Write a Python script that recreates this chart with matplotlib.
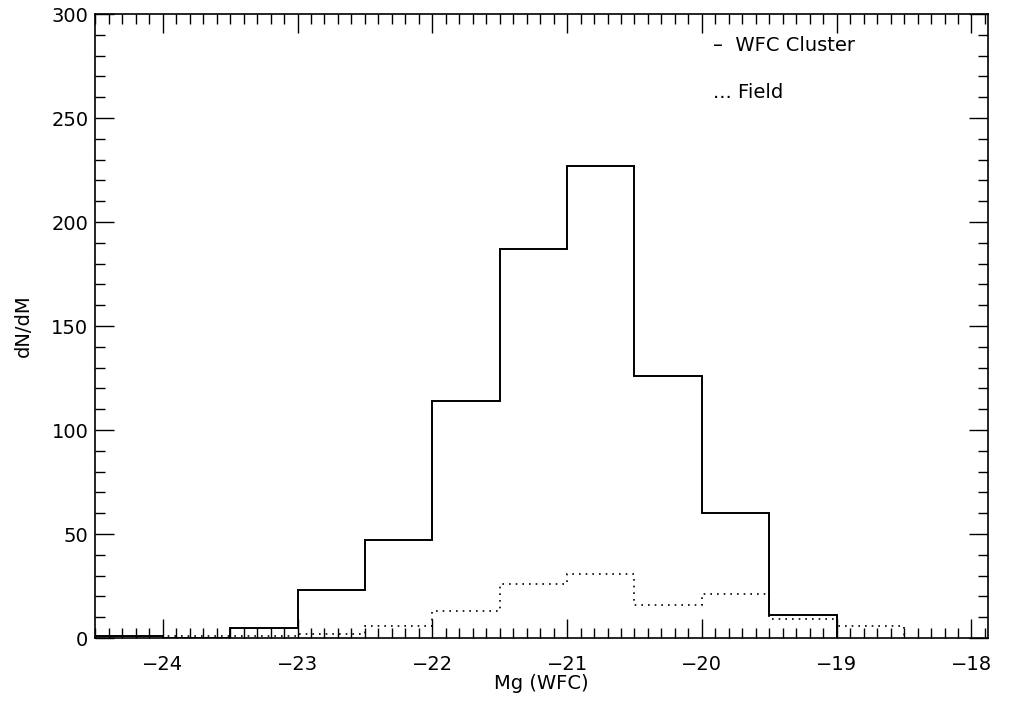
import matplotlib
matplotlib.use("Agg")
import matplotlib.pyplot as plt
import numpy as np
from matplotlib.ticker import MultipleLocator, FuncFormatter

plt.rcParams['font.family'] = ['DejaVu Sans']

bin_edges = [-24.5, -24.0, -23.5, -23.0, -22.5, -22.0, -21.5, -21.0, -20.5, -20.0, -19.5, -19.0, -18.5]
cluster_counts = [1, 0, 5, 23, 47, 114, 187, 227, 126, 60, 11, 0]
field_counts = [0, 1, 1, 2, 6, 13, 26, 31, 16, 21, 9, 6]

fig = plt.figure(figsize=(10.14, 7.05), dpi=100)
ax = fig.add_axes([0.094, 0.095, 0.880, 0.885])

ax.stairs(cluster_counts[:11], bin_edges[:12], color='black', linewidth=1.4)
ax.stairs(field_counts[1:], bin_edges[1:], color='black', linewidth=1.2, linestyle=(0, (1, 3)))

ax.set_xlim(-24.5, -17.88)
ax.set_ylim(0, 300)
ax.xaxis.set_major_locator(MultipleLocator(1))
ax.xaxis.set_minor_locator(MultipleLocator(0.1))
ax.yaxis.set_major_locator(MultipleLocator(50))
ax.yaxis.set_minor_locator(MultipleLocator(10))
ax.tick_params(which='both', direction='in', top=True, right=True, labelsize=14, width=1)
ax.tick_params(axis='y', pad=5)
ax.tick_params(axis='x', pad=12)
ax.tick_params(which='major', length=14)
ax.tick_params(which='minor', length=7)
for s in ax.spines.values():
    s.set_linewidth(1.2)

ax.xaxis.set_major_formatter(FuncFormatter(lambda v, p: '\u2212' + '%d' % abs(v) if v < 0 else '%d' % v))
ax.set_xlabel('Mg (WFC)', fontsize=14, labelpad=0)
ax.set_ylabel('dN/dM', fontsize=14, labelpad=13)

ax.text(0.692, 0.949, '\u2013  WFC Cluster', transform=ax.transAxes, fontsize=14, va='center', ha='left')
ax.text(0.692, 0.875, '... Field', transform=ax.transAxes, fontsize=14, va='center', ha='left')

fig.savefig('out.png', dpi=100)
